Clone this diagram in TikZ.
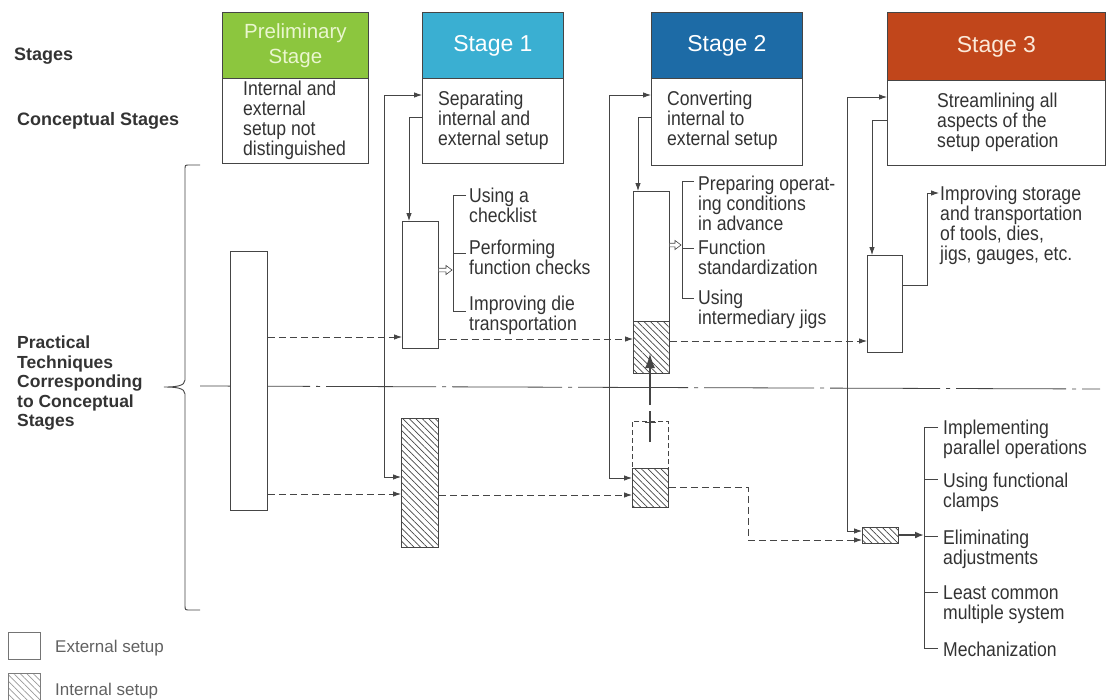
\documentclass[tikz,border=0pt]{standalone}
\usepackage{fontspec}
\setmainfont{Liberation Sans}
\newfontfamily\scanfont{Liberation Sans}[FakeStretch=0.88]
\usetikzlibrary{arrows.meta,patterns.meta}

\definecolor{ink}{HTML}{454545}
\definecolor{txt}{HTML}{333333}
\definecolor{prelim}{HTML}{8CC63E}
\definecolor{prelimtext}{HTML}{EAF6CF}
\definecolor{stageone}{HTML}{3AAFD2}
\definecolor{stagetwo}{HTML}{1D6BA6}
\definecolor{stagethree}{HTML}{C1461B}
\definecolor{stagethreetext}{HTML}{FBE9D9}

\begin{document}
\begin{tikzpicture}[x=1pt,y=-1pt,
  every node/.style={inner sep=0pt},
  hdr/.style={draw=ink, line width=0.8pt, anchor=north west, align=center,
              font=\fontsize{23}{25}\selectfont, text=white},
  cbox/.style={draw=ink, line width=0.8pt, anchor=north west, fill=white},
  techtext/.style={anchor=north west, align=left, text=txt,
                   font=\scanfont\fontsize{20}{19.8}\selectfont},
  rowlabel/.style={anchor=north west, align=left, text=txt,
                   font=\bfseries\fontsize{17.5}{19.5}\selectfont},
  legendtext/.style={anchor=north west, text=ink!85, font=\fontsize{17}{19}\selectfont},
  extbox/.style={draw=ink, line width=0.9pt, anchor=north west, fill=white},
  intbox/.style={extbox, pattern={Lines[angle=-45,distance=4.6pt,line width=0.7pt]}, pattern color=ink},
  wire/.style={draw=ink, line width=0.75pt},
  arrowed/.style={-{Latex[length=8pt,width=5.5pt]}},
  biarrowed/.style={{Latex[length=8pt,width=5.5pt]}-{Latex[length=8pt,width=5.5pt]}},
  flowdash/.style={dash pattern=on 7pt off 4pt},
  hollow/.style={draw=ink, line width=0.6pt, fill=white, line join=miter},
]
\useasboundingbox (0,0) rectangle (1107,699);

% ---- row labels
\node[rowlabel, anchor=base west, font=\bfseries\fontsize{18}{20}\selectfont] (lstages) at (14,60) {Stages};
\node[rowlabel, anchor=base west, font=\bfseries\fontsize{18}{20}\selectfont] (lconcept) at (17,125) {Conceptual Stages};
\node[rowlabel] (lpractical) at (17,336) {Practical\\Techniques\\Corresponding\\to Conceptual\\Stages};

% ---- stage headers
\node[hdr, fill=prelim, text=prelimtext, minimum width=146pt, minimum height=66pt,
      font=\fontsize{20.5}{25}\selectfont] (h0) at (222,12) {Preliminary\\Stage};
\node[hdr, fill=stageone, minimum width=141pt, minimum height=66pt] (h1) at (422,12) {Stage 1};
\node[hdr, fill=stagetwo, minimum width=151pt, minimum height=66pt] (h2) at (651,12) {Stage 2};
\node[hdr, fill=stagethree, text=stagethreetext, minimum width=218pt, minimum height=68pt] (h3) at (887,12) {Stage 3};

% ---- conceptual stage boxes
\node[cbox, minimum width=146pt, minimum height=85pt] (c0) at (222,78) {};
\node[cbox, minimum width=141pt, minimum height=85pt] (c1) at (422,78) {};
\node[cbox, minimum width=151pt, minimum height=87pt] (c2) at (651,78) {};
\node[cbox, minimum width=218pt, minimum height=85pt] (c3) at (887,80) {};
\node[techtext] (c0t) at (243,81) {Internal and\\external\\setup not\\distinguished};
\node[techtext] (c1t) at (438,91) {Separating\\internal and\\external setup};
\node[techtext] (c2t) at (667,91) {Converting\\internal to\\external setup};
\node[techtext] (c3t) at (937,93) {Streamlining all\\aspects of the\\setup operation};

% ---- brace and dividing line
\draw[wire, line width=0.9pt] (200,165) -- (189,165) .. controls (185,165) .. (185,170)
  -- (185,380) .. controls (185,386) and (176,387) .. (164,387)
  .. controls (176,387) and (185,388) .. (185,394)
  -- (185,605) .. controls (185,610) .. (190,610) -- (200,610);
\draw[ink, line width=0.8pt, dash pattern=on 110pt off 6pt on 4pt off 6pt] (200,386) -- (1100,389);

% ---- setup bars
\node[extbox, minimum width=37pt, minimum height=259pt] (p0) at (230,251) {};
\node[extbox, minimum width=36pt, minimum height=127pt] (s1e) at (402,221) {};
\node[intbox, minimum width=37pt, minimum height=129pt, line width=1.1pt] (s1i) at (401,418) {};
\node[extbox, minimum width=36pt, minimum height=130pt] (s2e) at (633,191) {};
\node[intbox, minimum width=36pt, minimum height=52pt] (s2h) at (633,321) {};
\node[extbox, fill=none, dash pattern=on 5pt off 3pt, minimum width=36pt, minimum height=47pt] (s2d) at (632,421) {};
\node[intbox, minimum width=36pt, minimum height=39pt] (s2i) at (632,468) {};
\node[extbox, minimum width=35pt, minimum height=97pt] (s3e) at (867,255) {};
\node[intbox, minimum width=36pt, minimum height=16pt, line width=1.1pt] (s3i) at (862,527) {};

% ---- stage 1 connectors
\draw[wire, biarrowed] (c1.west |- 0,95) -| (384,477) -- (s1i.west |- 0,477);
\draw[wire, arrowed] (c1.west |- 0,117) -| ([xshift=7pt]s1e.north west);
\draw[wire, flowdash, arrowed] (p0.east |- 0,337) -- (s1e.west |- 0,337);
\draw[wire, flowdash, arrowed] (p0.east |- 0,494) -- (s1i.west |- 0,494);
\draw[hollow] (s1e.east |- 0,268.2) -- (446,268.2) -- (446,265.5) -- (452,270)
  -- (446,274.5) -- (446,271.8) -- (s1e.east |- 0,271.8);
\draw[wire] (466,195) -- (453,195) -- (453,311) -- (466,311);
\draw[wire] (453,253) -- (466,253);
\node[techtext] (t1a) at (469,188) {Using a\\checklist};
\node[techtext] (t1b) at (469,240) {Performing\\function checks};
\node[techtext] (t1c) at (469,296) {Improving die\\transportation};

% ---- stage 2 connectors
\draw[wire, biarrowed] (c2.west |- 0,95) -| (609,478) -- (s2i.west |- 0,478);
\draw[wire, arrowed] (c2.west |- 0,117) -| ([xshift=5pt]s2e.north west);
\draw[wire, flowdash, arrowed] (s1e.east |- 0,339) -- (s2h.west |- 0,339);
\draw[wire, flowdash, arrowed] (s1i.east |- 0,495) -- (s2i.west |- 0,495);
\draw[hollow] (s2e.east |- 0,243.2) -- (675,243.2) -- (675,240.5) -- (681,245)
  -- (675,249.5) -- (675,246.8) -- (s2e.east |- 0,246.8);
\draw[wire] (694,181) -- (682,181) -- (682,298) -- (694,298);
\draw[wire] (682,248) -- (694,248);
\node[techtext] (t2a) at (698,176) {Preparing operat-\\ing conditions\\in advance};
\node[techtext] (t2b) at (698,240) {Function\\standardization};
\node[techtext] (t2c) at (698,290) {Using\\intermediary jigs};
% conversion of internal setup into external setup
\draw[ink, line width=2.4pt] (650,442) -- (650,411);
\draw[ink, line width=2.4pt, -{Latex[length=15pt,width=10pt]}] (650,405) -- (650,353);
\draw[ink, line width=1pt] (645,422) -- (656,422);

% ---- stage 3 connectors
\draw[wire, flowdash, arrowed] (s2h.east |- 0,341) -- (s3e.west |- 0,341);
\draw[wire, flowdash, arrowed] (s2i.east |- 0,487) -| (748,540) -- (s3i.west |- 0,540);
\draw[wire, biarrowed] (c3.west |- 0,97) -| (847,531) -- (s3i.west |- 0,531);
\draw[wire, arrowed] (c3.west |- 0,120) -| ([xshift=5pt]s3e.north west);
\draw[wire, arrowed] (s3e.east |- 0,285) -| (927,193) -- (939,193);
\node[techtext] (t3a) at (940,186) {Improving storage\\and transportation\\of tools, dies,\\jigs, gauges, etc.};
\draw[ink, line width=2.2pt, -{Latex[length=9pt,width=7pt]}] (s3i.east |- 0,535) -- (924,535);
\draw[wire] (938,427) -- (924,427) -- (924,648) -- (938,648);
\draw[wire] (924,479) -- (938,479);
\draw[wire] (924,536) -- (938,536);
\draw[wire] (924,592) -- (938,592);
\node[techtext] (t3b) at (943,420) {Implementing\\parallel operations};
\node[techtext] (t3c) at (943,473) {Using functional\\clamps};
\node[techtext] (t3d) at (943,530) {Eliminating\\adjustments};
\node[techtext] (t3e) at (943,586) {Least common\\multiple system};
\node[techtext] (t3f) at (943,642) {Mechanization};

% ---- legend
\node[extbox, draw=ink!75, minimum width=32pt, minimum height=27pt] (lgext) at (8,632) {};
\node[intbox, draw=ink!70, pattern color=ink!55, minimum width=32pt, minimum height=32pt] (lgint) at (8,673) {};
\node[legendtext] (lgexttxt) at (55,640) {External setup};
\node[legendtext] (lginttxt) at (55,683) {Internal setup};
\end{tikzpicture}
\end{document}
